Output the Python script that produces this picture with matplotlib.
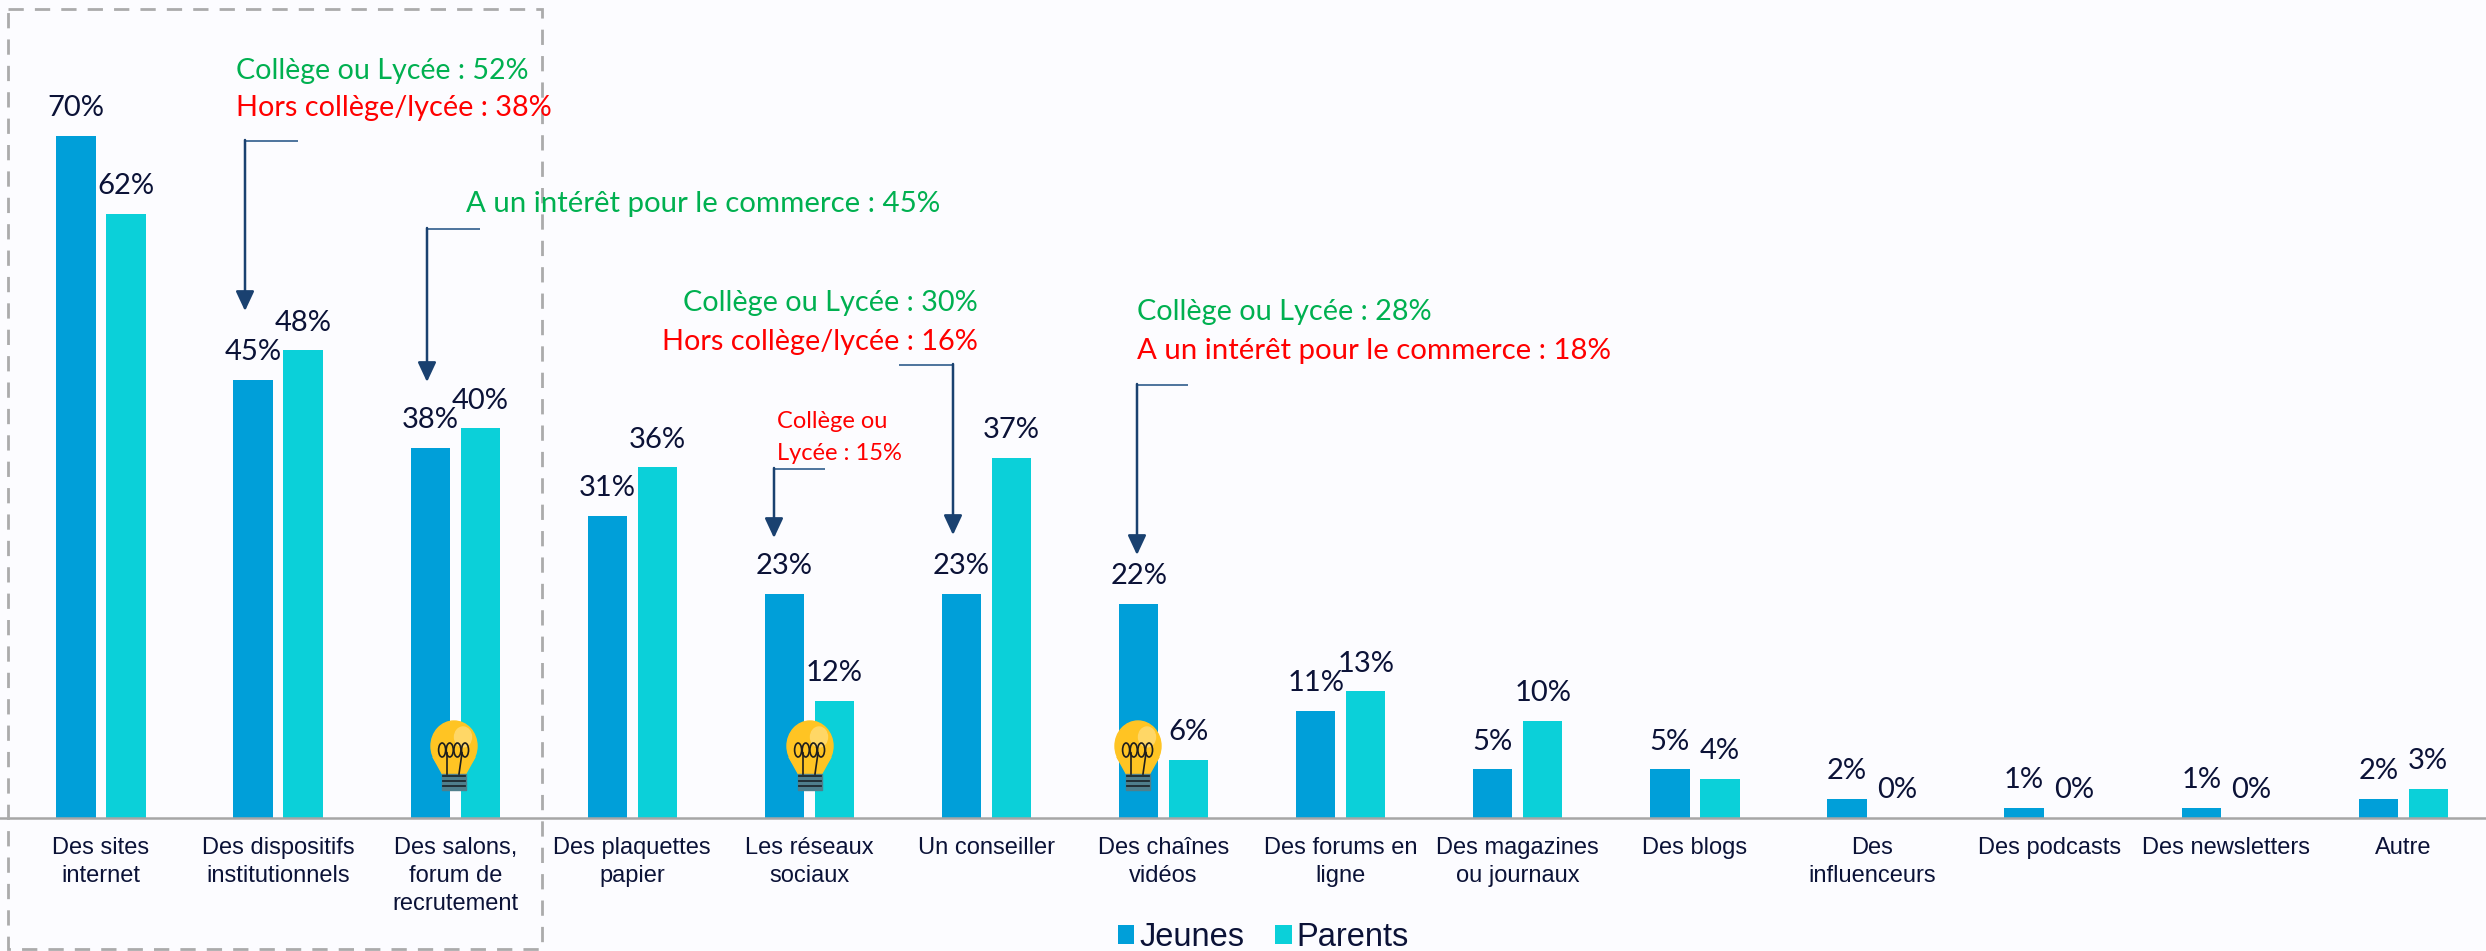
import matplotlib
matplotlib.use('Agg')
import matplotlib.pyplot as plt
from matplotlib.patches import Rectangle, Ellipse, Polygon

W, H = 2486, 951
BASE_Y = 818
PX_PER_PCT = 9.74
FIRST_X = 101
PITCH = 177.1

categories = ['Des sites\ninternet', 'Des dispositifs\ninstitutionnels', 'Des salons,\nforum de\nrecrutement',
              'Des plaquettes\npapier', 'Les réseaux\nsociaux', 'Un conseiller', 'Des chaînes\nvidéos',
              'Des forums en\nligne', 'Des magazines\nou journaux', 'Des blogs', 'Des\ninfluenceurs',
              'Des podcasts', 'Des newsletters', 'Autre']
jeunes = [70, 45, 38, 31, 23, 23, 22, 11, 5, 5, 2, 1, 1, 2]
parents = [62, 48, 40, 36, 12, 37, 6, 13, 10, 4, 0, 0, 0, 3]

BG = '#FCFCFF'
BLUE = '#009FD9'
TEAL = '#0BD0D9'
INK = '#0B1237'
GREEN = '#00B050'
RED = '#FF0000'
ARROW = '#1A4170'

plt.rcParams['font.family'] = ['Liberation Sans', 'DejaVu Sans']

fig = plt.figure(figsize=(W / 100, H / 100), dpi=100, facecolor=BG)
ax = fig.add_axes([0, (H - BASE_Y) / H, 1, BASE_Y / H], facecolor='none')
ax.set_xlim(-FIRST_X / PITCH, (W - FIRST_X) / PITCH)
ax.set_ylim(0, BASE_Y / PX_PER_PCT)

x = list(range(len(categories)))
offset = 0.141
width = 0.222
b1 = ax.bar([i - offset for i in x], jeunes, width=width, color=BLUE, label='Jeunes')
b2 = ax.bar([i + offset for i in x], parents, width=width, color=TEAL, label='Parents')

for bars, vals in ((b1, jeunes), (b2, parents)):
    for rect, v in zip(bars, vals):
        ax.annotate(f'{v}%', (rect.get_x() + rect.get_width() / 2, v), xytext=(0, 20),
                    textcoords='offset points', ha='center', va='center',
                    fontsize=21, color=INK, family='Lato')

for s in ('top', 'left', 'right'):
    ax.spines[s].set_visible(False)
ax.spines['bottom'].set_color('#A6A6A6')
ax.spines['bottom'].set_linewidth(1.8)
ax.set_yticks([])
ax.set_xticks(x)
ax.set_xticklabels(categories, fontsize=17, color=INK, linespacing=1.33, va='top')
ax.tick_params(axis='x', length=0, pad=14)

leg = ax.legend(loc='lower left', bbox_to_anchor=(1118 / W, -0.002), bbox_transform=fig.transFigure,
                ncol=2, frameon=False, fontsize=23.5, labelcolor=INK, handlelength=0.5, handleheight=0.5,
                handletextpad=0.15, columnspacing=0.95, borderpad=0, borderaxespad=0)

# overlay in pixel coordinates for the callouts
ov = fig.add_axes([0, 0, 1, 1], facecolor='none')
ov.set_xlim(0, W)
ov.set_ylim(H, 0)
ov.axis('off')

ov.add_patch(Rectangle((8, 9), 534, 940, fill=False, edgecolor='#ABABAB', linewidth=2,
                       linestyle=(0, (5.5, 4)), clip_on=False))


def note(px, py, s, color, size=20.8, ha='left'):
    ov.text(px, py, s, color=color, fontsize=size, ha=ha, va='center', family='Lato')


note(236, 71, 'Collège ou Lycée : 52%', GREEN, size=20.6)
note(236, 108, 'Hors collège/lycée : 38%', RED)
note(466, 204, 'A un intérêt pour le commerce : 45%', GREEN, size=21.2)
note(978, 303, 'Collège ou Lycée : 30%', GREEN, ha='right')
note(978, 342, 'Hors collège/lycée : 16%', RED, ha='right')
note(777, 421, 'Collège ou', RED, size=17)
note(777, 453, 'Lycée : 15%', RED, size=17)
note(1137, 312, 'Collège ou Lycée : 28%', GREEN)
note(1137, 351, 'A un intérêt pour le commerce : 18%', RED, size=21.2)


def leader(x_start, x_arrow, y_top, y_tip):
    ov.plot([x_start, x_arrow], [y_top, y_top], color='#2F5D8C', lw=1.2, solid_capstyle='butt')
    ov.annotate('', xy=(x_arrow, y_tip), xytext=(x_arrow, y_top - 1),
                arrowprops=dict(arrowstyle='-|>,head_width=0.28,head_length=0.6', color=ARROW, lw=1.8,
                                shrinkA=0, shrinkB=0, mutation_scale=20))


leader(298, 245, 141, 311)
leader(480, 427, 229, 382)
leader(899, 953, 365, 535)
leader(825, 774, 469, 538)
leader(1188, 1137, 385, 555)


def bulb(cx, top):
    cy = top + 25
    ov.add_patch(Ellipse((cx, cy), 46, 50, color='#FFC423', zorder=5))
    ov.add_patch(Polygon([(cx - 21, cy + 11), (cx + 21, cy + 11), (cx + 11, top + 54), (cx - 11, top + 54)],
                         color='#FFC423', zorder=5))
    ov.add_patch(Ellipse((cx + 9, cy - 9), 17, 20, color='#FFD766', zorder=5))
    ov.add_patch(Rectangle((cx - 12, top + 53), 24, 16, color='#4F7F8C', zorder=5))
    for dy in (0, 5, 10):
        ov.plot([cx - 11, cx + 11], [top + 55 + dy, top + 55 + dy], color='#1E2A30', lw=1.3, zorder=6)
    for dx in (-14, -5, 4, 13):
        ov.add_patch(Ellipse((cx + dx * 0.85, top + 29), 7, 14, fill=False, edgecolor='#1E1E1E', lw=1.2, zorder=6))
    ov.plot([cx - 7, cx - 7], [top + 32, top + 53], color='#1E1E1E', lw=1.2, zorder=6)
    ov.plot([cx + 8, cx + 5], [top + 32, top + 53], color='#1E1E1E', lw=1.2, zorder=6)


bulb(454, 721)
bulb(810, 721)
bulb(1138, 721)

fig.savefig('out.png', dpi=100, facecolor=BG)
